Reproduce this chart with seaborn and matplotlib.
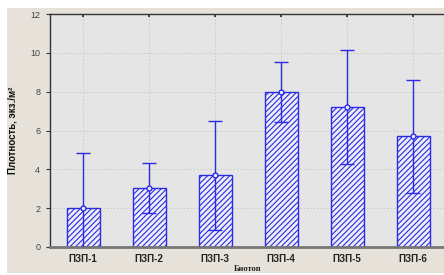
import matplotlib
matplotlib.use('Agg')
import matplotlib.pyplot as plt
import seaborn as sns
import numpy as np
from matplotlib.patches import Rectangle

# data
biotopes = ['ПЗП-1', 'ПЗП-2', 'ПЗП-3', 'ПЗП-4', 'ПЗП-5', 'ПЗП-6']
density = [2.0, 3.05, 3.7, 8.0, 7.2, 5.7]
err = [2.85, 1.3, 2.8, 1.55, 2.95, 2.9]

sns.set_theme(style='white')
plt.rcParams['font.family'] = ['Liberation Sans', 'DejaVu Sans']
plt.rcParams['hatch.color'] = '#2b2be6'
plt.rcParams['hatch.linewidth'] = 0.8

fig = plt.figure(figsize=(4.44, 2.75), dpi=100, facecolor='white')
fig.patches.append(Rectangle((7 / 444, 2 / 275), 437 / 444, 265 / 275,
                             transform=fig.transFigure, facecolor='#e6e2da',
                             edgecolor='none', zorder=-10))

ax = fig.add_axes([50 / 444, 28 / 275, 396 / 444, 233 / 275])
ax.set_facecolor('#e5e5e5')

sns.barplot(x=biotopes, y=density, ax=ax, color='#ececf6', width=0.5,
            edgecolor='#2b2be6', linewidth=1.0, zorder=2)
for p in ax.patches:
    p.set_hatch('//////')

xs = np.arange(len(biotopes))
ax.errorbar(xs, density, yerr=err, fmt='o', color='#2b2be6', ecolor='#2b2be6',
            elinewidth=1.0, capsize=5, capthick=1.0, markersize=3.5,
            markerfacecolor='#ececf6', markeredgecolor='#2b2be6', zorder=3)

ax.set_xlim(-0.5, 5.5)
ax.set_ylim(0, 12)
ax.set_yticks(range(0, 13, 2))
ax.grid(True, axis='both', linestyle=(0, (1.5, 2.5)), color='#c0c0c0', linewidth=0.6, zorder=0)
ax.set_axisbelow(True)

for side in ['left', 'top']:
    ax.spines[side].set_color('#333333')
    ax.spines[side].set_linewidth(1.0)
ax.spines['bottom'].set_color('#777777')
ax.spines['bottom'].set_linewidth(2.0)
ax.spines['right'].set_visible(False)

ax.tick_params(axis='y', which='both', left=True, length=3, width=0.8, colors='#333333',
               labelsize=6.5, labelcolor='#444444', pad=4)
ax.tick_params(axis='x', bottom=False, top=True, direction='in', length=2,
               labelsize=7, pad=5)
for lbl in ax.get_xticklabels():
    lbl.set_fontweight('bold')
    lbl.set_color('#222222')

ax.set_ylabel('Плотность, экз./м²', fontsize=7, fontweight='bold', color='#111111', labelpad=9)
ax.set_xlabel('Биотоп', fontsize=6, fontweight='bold', family='Liberation Serif',
              color='#222222', labelpad=0.5)

fig.savefig('out.png', dpi=100, facecolor='white')
